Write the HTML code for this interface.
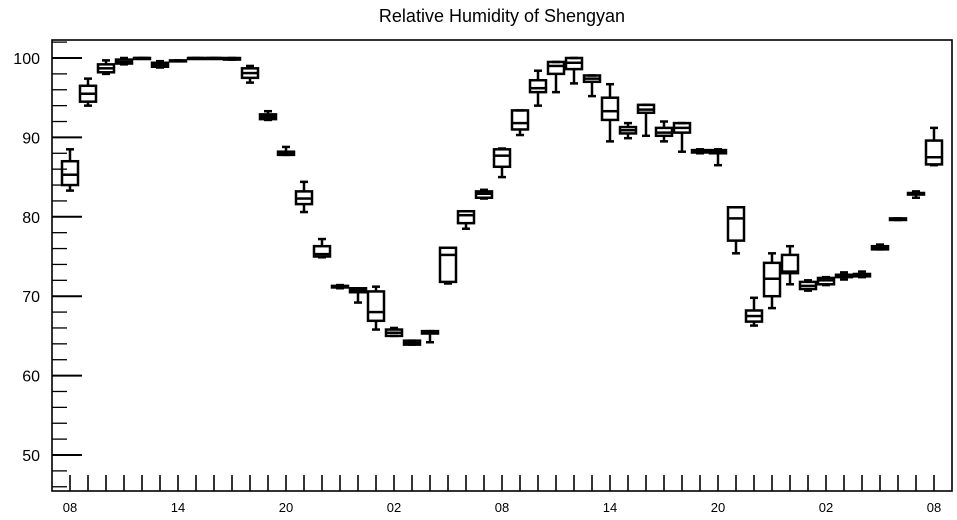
<!DOCTYPE html>
<html><head><meta charset="utf-8"><style>
body{margin:0;background:#fff;}
svg{display:block;font-family:"Liberation Sans",Arial,sans-serif;}
</style></head><body>
<svg id="chart" width="957" height="520" viewBox="0 0 957 520">
<text x="502" y="22" font-size="18" text-anchor="middle">Relative Humidity of Shengyan</text>
<g id="axes"></g>
<g id="boxes"></g>
</svg>
<script>
const hours=["08","09","10","11","12","13","14","15","16","17","18","19","20","21","22","23","00","01","02","03","04","05","06","07","08","09","10","11","12","13","14","15","16","17","18","19","20","21","22","23","00","01","02","03","04","05","06","07","08"];
const mins=[83.3,94,98,99.2,99.9,98.8,99.6,99.9,99.9,99.8,96.9,92.2,87.8,80.6,74.9,71,69.2,65.8,65,63.9,64.2,71.6,78.5,82.3,85,90.3,94,95.7,96.8,95.2,89.5,89.9,90.2,89.5,88.2,88,86.5,75.4,66.3,68.5,71.5,70.7,71.4,72.1,72.4,75.9,79.6,82.4,86.5];
const q1s=[84,94.5,98.2,99.3,99.9,98.9,99.6,99.9,99.9,99.8,97.5,92.3,87.8,81.6,75,71.1,70.5,66.9,65,63.9,65.3,71.8,79.2,82.4,86.3,91,95.7,98,98.6,97,92.2,90.5,93.1,90.2,90.6,88.1,88,77,66.8,70,72.9,70.9,71.5,72.4,72.5,75.9,79.6,82.8,86.6];
const medians=[85.3,95.5,98.7,99.5,100,99.1,99.65,100,100,99.9,98.1,92.6,88,82.3,75.3,71.2,70.8,68,65.4,64.1,65.4,75.2,80.2,82.9,87.7,91.8,96.2,99,99.4,97.4,93.3,90.9,93.5,90.6,91.2,88.2,88.2,79.8,67.5,72.2,73.1,71.3,72,72.6,72.6,76.1,79.7,82.9,87.5];
const q3s=[87,96.5,99.2,99.8,100,99.4,99.7,100,100,100,98.7,92.9,88.2,83.2,76.3,71.3,71,70.6,65.8,64.4,65.6,76.1,80.7,83.2,88.5,93.4,97.2,99.5,100,97.8,95,91.3,94.1,91.2,91.8,88.4,88.4,81.2,68.2,74.2,75.2,71.8,72.3,72.7,72.8,76.3,79.8,83,89.6];
const maxs=[88.5,97.4,99.7,100,100,99.6,99.7,100,100,100,99,93.3,88.8,84.4,77.2,71.4,71,71.2,66,64.4,65.6,76.1,80.7,83.4,88.6,93.4,98.4,99.5,100,97.8,96.7,91.8,94.1,92,91.8,88.5,88.5,81.2,69.8,75.4,76.3,72,72.4,73,73.1,76.5,79.8,83.2,91.2];
const yTicks=[50,60,70,80,90,100];
const xLabelIdx=[0,6,12,18,24,30,36,42,48];

const L=52,R=952,T=40,B=491;
const yScale=v=>58+(100-v)*7.94;
const xScale=i=>70+18*i;
const NS="http://www.w3.org/2000/svg";
function mk(tag,attrs,parent){const e=document.createElementNS(NS,tag);for(const k in attrs)e.setAttribute(k,attrs[k]);parent.appendChild(e);return e;}
const ax=document.getElementById('axes');
let f=mk('rect',{x:L,y:T,width:R-L,height:B-T,fill:'none',stroke:'#000','stroke-width':1.6},ax);


for(let v=46;v<=102;v+=2){
  const y=yScale(v); if(y<T||y>B)continue;
  const major=v%10===0;
  let t=mk('line',{x1:L,x2:L+(major?30:15),y1:y,y2:y,stroke:'#000','stroke-width':major?2:1.3},ax);
  
  
}
yTicks.forEach(v=>{
  let t=mk('text',{x:40,y:yScale(v)+6,'font-size':16,'text-anchor':'end'},ax);t.textContent=v;
  
  
});
hours.forEach((h,i)=>{
  const x=xScale(i);
  let t=mk('line',{x1:x,x2:x,y1:B-16,y2:B,stroke:'#000','stroke-width':1.6},ax);
  
  
});
xLabelIdx.forEach(i=>{
  let t=mk('text',{x:xScale(i),y:512,'font-size':13,'text-anchor':'middle'},ax);t.textContent=hours[i];
  
  
});
const bx=document.getElementById('boxes');
hours.forEach((h,i)=>{
  const g=mk('g',{stroke:'#000','stroke-width':2.5,fill:'none'},bx);
  
  
  const x=xScale(i),w=16;
  const yq1=yScale(q1s[i]),yq3=yScale(q3s[i]);
  mk('line',{x1:x,x2:x,y1:yScale(maxs[i]),y2:yq3},g);
  mk('line',{x1:x,x2:x,y1:yq1,y2:yScale(mins[i])},g);
  mk('line',{x1:x-4,x2:x+4,y1:yScale(maxs[i]),y2:yScale(maxs[i])},g);
  mk('line',{x1:x-4,x2:x+4,y1:yScale(mins[i]),y2:yScale(mins[i])},g);
  mk('rect',{x:x-w/2,y:yq3,width:w,height:Math.max(yq1-yq3,1)},g);
  mk('line',{x1:x-w/2,x2:x+w/2,y1:yScale(medians[i]),y2:yScale(medians[i])},g);
});
</script>
</body></html>
